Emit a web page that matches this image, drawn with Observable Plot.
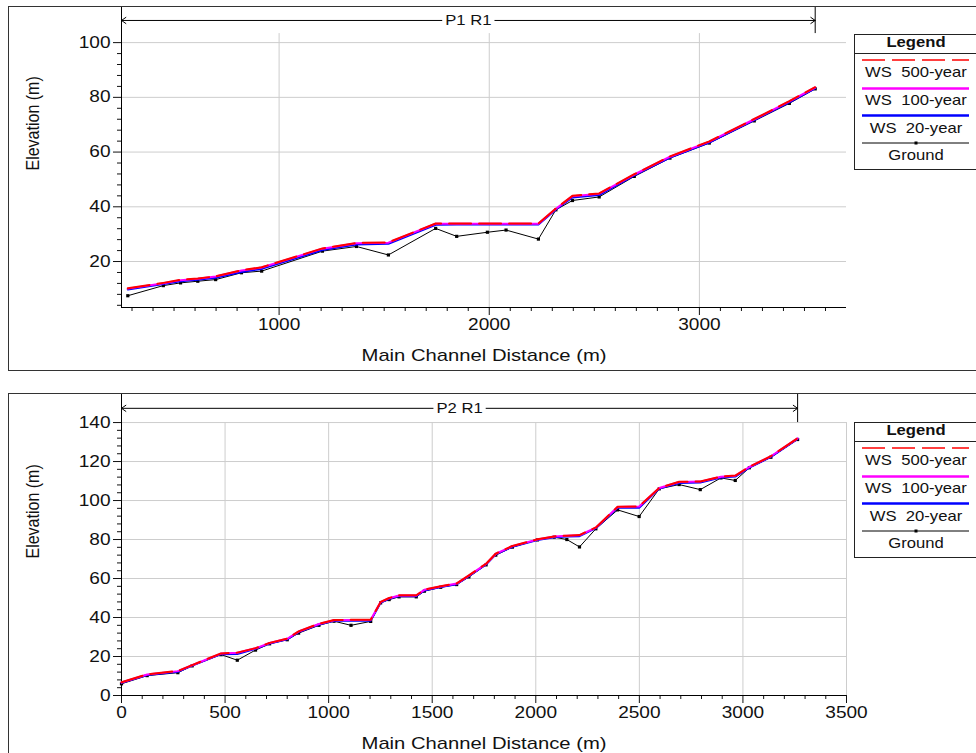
<!DOCTYPE html>
<html>
<head>
<meta charset="utf-8">
<script src="https://cdn.jsdelivr.net/npm/d3@7"></script>
<script src="https://cdn.jsdelivr.net/npm/@observablehq/plot@0.6"></script>
<style>
html, body { margin: 0; padding: 0; background: #fff; }
#page { position: relative; width: 976px; height: 753px; overflow: hidden; font-family: "Liberation Sans", Arial, sans-serif; }
.panel { position: absolute; left: 0; }
.box { position: absolute; left: 8px; width: 1000px; border: 1px solid #333; pointer-events: none; }
svg text { white-space: pre; }
</style>
</head>
<body>
<div id="page"></div>
<script>
// ---------- DATA ----------
const seriesNames = ["WS  500-year", "WS  100-year", "WS  20-year", "Ground"];
const seriesColors = ["#ff0000", "#ff00ff", "#0000ff", "#000000"];
const xTitle = "Main Channel Distance (m)";
const yTitle = "Elevation (m)";

// Panel 1 : P1 R1
const p1Reach = {label: "P1 R1", from: 250, to: 3551};
const p1Station = [280, 449, 531, 613, 698, 821, 917, 1206, 1368, 1520, 1745, 1845, 1991, 2080, 2234, 2317, 2396, 2523, 2690, 2860, 3047, 3261, 3428, 3551];
const p1Ground  = [7.5, 11.2, 12.2, 12.8, 13.4, 15.9, 16.5, 23.8, 25.5, 22.4, 32.1, 29.2, 30.7, 31.5, 28.2, 38.9, 42.3, 43.6, 51.1, 57.8, 63.3, 71.4, 77.8, 83.1];
const p1WS500   = [10.2, 12.2, 13.3, 13.8, 14.6, 16.8, 17.9, 24.8, 26.8, 27.0, 33.9, 33.9, 33.9, 33.9, 33.9, 39.4, 44.0, 44.9, 51.9, 58.4, 63.9, 72.1, 78.6, 83.7];
const p1WS100   = [10.1, 12.1, 13.2, 13.7, 14.5, 16.7, 17.8, 24.7, 26.7, 26.9, 33.8, 33.8, 33.8, 33.8, 33.8, 39.3, 43.9, 44.8, 51.8, 58.3, 63.8, 72.0, 78.5, 83.6];
const p1WS20    = [9.8, 11.8, 12.8, 13.3, 14.1, 16.2, 17.3, 24.2, 26.2, 26.5, 33.4, 33.5, 33.5, 33.5, 33.5, 39.0, 43.4, 44.3, 51.5, 58.0, 63.5, 71.7, 78.2, 83.3];
const p1XTicks = [1000, 2000, 3000];
const p1YTicks = [20, 40, 60, 80, 100];

// Panel 2 : P2 R1
const p2Reach = {label: "P2 R1", from: 0, to: 3264};
const p2Station = [0, 124, 272, 341, 480, 559, 647, 715, 800, 855, 953, 1026, 1108, 1203, 1251, 1292, 1340, 1423, 1462, 1541, 1618, 1677, 1760, 1807, 1887, 2008, 2089, 2150, 2211, 2290, 2395, 2499, 2596, 2692, 2794, 2894, 2963, 3031, 3135, 3264];
const p2Ground  = [6.0, 10.2, 11.7, 15.2, 21.0, 18.1, 23.3, 26.5, 28.6, 32.0, 36.0, 38.1, 36.0, 38.0, 47.5, 49.2, 50.6, 50.6, 53.5, 55.5, 56.9, 60.8, 67.0, 72.0, 76.1, 79.8, 81.2, 80.0, 76.2, 85.5, 95.2, 91.8, 106.0, 108.2, 105.6, 111.6, 110.3, 116.8, 122.2, 131.3];
const p2WS500   = [6.8, 10.9, 12.6, 15.6, 21.6, 22.0, 24.3, 27.0, 29.2, 32.9, 36.8, 38.7, 38.8, 38.9, 48.0, 50.0, 51.4, 51.4, 54.3, 56.0, 57.5, 61.6, 67.6, 72.8, 76.7, 80.1, 81.6, 82.0, 82.3, 86.2, 96.8, 97.0, 106.5, 109.6, 109.8, 112.3, 112.8, 117.3, 122.8, 132.0];
const p2WS100   = [6.7, 10.8, 12.5, 15.5, 21.5, 21.9, 24.2, 26.9, 29.1, 32.8, 36.7, 38.6, 38.7, 38.8, 47.9, 49.9, 51.3, 51.3, 54.2, 55.9, 57.4, 61.5, 67.5, 72.7, 76.6, 80.0, 81.5, 81.9, 82.2, 86.1, 96.7, 96.9, 106.4, 109.5, 109.7, 112.2, 112.7, 117.2, 122.7, 131.9];
const p2WS20    = [6.5, 10.5, 12.2, 15.3, 21.2, 21.3, 23.9, 26.6, 28.8, 32.5, 36.4, 38.3, 38.3, 38.4, 47.6, 49.6, 51.0, 50.9, 53.9, 55.6, 57.1, 61.2, 67.2, 72.4, 76.3, 79.7, 81.2, 81.5, 81.7, 85.8, 96.3, 96.3, 106.1, 109.0, 109.2, 111.8, 112.3, 116.9, 122.4, 131.6];
const p2XTicks = [0, 500, 1000, 1500, 2000, 2500, 3000, 3500];
const p2YTicks = [0, 20, 40, 60, 80, 100, 120, 140];

// ---------- DRAWING ----------
const STRETCH = 1.19;   // horizontal text stretch seen in the reference
const GRID = "#cdcdcd";
const FONT = '"Liberation Sans", Arial, sans-serif';
const page = document.getElementById("page");

function stretchTexts(svgNode) {
  d3.select(svgNode).selectAll("text").each(function () {
    const t = this.getAttribute("transform");
    if (t && /^translate\([^)]*\)/.test(t)) {
      this.setAttribute("transform", t.replace(/^(translate\([^)]*\))/, `$1 scale(${STRETCH},1)`));
    }
  });
}

// white box behind the reach label so the arrow line does not show through it
function maskReachLabel(svgNode, label) {
  const t = Array.from(svgNode.querySelectorAll("text")).find(n => n.textContent === label);
  if (!t) return;
  const g = t.parentNode;
  const sr = svgNode.getBoundingClientRect();
  const r = t.getBoundingClientRect();
  const rect = document.createElementNS("http://www.w3.org/2000/svg", "rect");
  rect.setAttribute("x", r.left - sr.left - 3);
  rect.setAttribute("y", r.top - sr.top);
  rect.setAttribute("width", r.width + 6);
  rect.setAttribute("height", r.height);
  rect.setAttribute("fill", "#fff");
  g.parentNode.insertBefore(rect, g);
}

function panel(cfg) {
  const rows = cfg.station.map((s, i) => ({
    station: s, ground: cfg.ground[i], ws500: cfg.ws500[i], ws100: cfg.ws100[i], ws20: cfg.ws20[i]
  }));
  const [x0, x1] = cfg.xDomain;
  const [y0, y1] = cfg.yDomain;
  const xMinor = d3.range(Math.ceil(x0 / 100) * 100, x1, 100).filter(v => !cfg.xTicks.includes(v) && v > x0);
  const yMinor = d3.range(4, cfg.gridTop, 4).filter(v => v % 20 !== 0 && v > y0);
  const lvl = cfg.arrowLevel;
  const mid = d => (d.from + d.to) / 2;
  const chart = Plot.plot({
    width: 976, height: cfg.height,
    marginLeft: 121, marginRight: 130, marginTop: cfg.marginTop, marginBottom: cfg.marginBottom,
    x: {domain: cfg.xDomain}, y: {domain: cfg.yDomain},
    style: {background: "transparent", overflow: "visible", fontFamily: FONT, fontSize: "16px", color: "#111"},
    marks: [
      Plot.ruleY(cfg.yTicks, {stroke: GRID, strokeWidth: 1}),
      Plot.ruleX(cfg.xTicks, {y1: () => y0, y2: () => cfg.gridTop, stroke: GRID, strokeWidth: 1}),
      Plot.axisY(cfg.yTicks, {tickSize: 8, tickPadding: 3, tickFormat: d => String(d), label: null, fontSize: 16}),
      Plot.axisY(yMinor, {tickSize: 4, tickFormat: () => "", label: null}),
      Plot.axisX(cfg.xTicks, {tickSize: 8, tickPadding: 3, tickFormat: d => String(d), label: null, fontSize: 16}),
      Plot.axisX(xMinor, {tickSize: 4, tickFormat: () => "", label: null}),
      Plot.ruleX([x0], {stroke: "#000"}),
      Plot.ruleY([y0], {stroke: "#000"}),
      Plot.line(rows, {x: "station", y: "ground", stroke: seriesColors[3], strokeWidth: 1}),
      Plot.dot(rows, {x: "station", y: "ground", symbol: "square", r: 1.8, fill: seriesColors[3], stroke: null}),
      Plot.line(rows, {x: "station", y: "ws20", stroke: seriesColors[2], strokeWidth: 2}),
      Plot.line(rows, {x: "station", y: "ws100", stroke: seriesColors[1], strokeWidth: 2}),
      Plot.line(rows, {x: "station", y: "ws500", stroke: seriesColors[0], strokeWidth: 2, strokeDasharray: "22,8"}),
      Plot.arrow([cfg.reach], {x1: mid, x2: "from", y1: () => lvl, y2: () => lvl, stroke: "#000", strokeWidth: 1, headLength: 8, headAngle: 70}),
      Plot.arrow([cfg.reach], {x1: mid, x2: "to", y1: () => lvl, y2: () => lvl, stroke: "#000", strokeWidth: 1, headLength: 8, headAngle: 70}),
      Plot.ruleX([cfg.reach.to], {y1: () => cfg.gridTop, y2: () => y1, stroke: "#000"}),
      Plot.text([cfg.reach], {x: mid, y: () => lvl, text: "label", fill: "#111", fontSize: 14}),
      Plot.text([xTitle], {frameAnchor: "bottom", dy: 48, lineAnchor: "middle", fontSize: 17, fill: "#111"}),
      Plot.text([yTitle], {frameAnchor: "left", dx: -89, dy: cfg.yTitleDy, rotate: -90, lineAnchor: "middle", fontSize: 16, fill: "#111"})
    ]
  });
  chart.classList.add("panel");
  chart.style.top = cfg.top + "px";
  page.appendChild(chart);
  stretchTexts(chart);
  maskReachLabel(chart, cfg.reach.label);

  const box = document.createElement("div");
  box.className = "box";
  box.style.top = cfg.boxTop + "px";
  box.style.height = cfg.boxHeight + "px";
  page.appendChild(box);

  legend(cfg.legendTop);
}

function legend(top) {
  const svg = d3.create("svg")
    .attr("width", 130).attr("height", 140)
    .style("position", "absolute").style("left", "854px").style("top", top + "px")
    .style("overflow", "visible").style("font-family", FONT);
  svg.append("rect").attr("x", 0.5).attr("y", 0.5).attr("width", 160).attr("height", 135)
    .attr("fill", "#fff").attr("stroke", "#222");
  svg.append("text").attr("transform", `translate(62,8) scale(${STRETCH},1)`)
    .attr("text-anchor", "middle").attr("dominant-baseline", "central")
    .attr("font-size", 14).attr("font-weight", "bold").attr("fill", "#111").text("Legend");
  svg.append("line").attr("x1", 0).attr("x2", 160).attr("y1", 19.5).attr("y2", 19.5).attr("stroke", "#222");
  const lineY = [26, 54.5, 81.5, 109];
  const textY = [38, 65.5, 93.5, 121];
  const widths = [1.5, 2.5, 2.5, 1];
  seriesNames.forEach((name, i) => {
    const ln = svg.append("line").attr("x1", 8).attr("x2", 115).attr("y1", lineY[i]).attr("y2", lineY[i])
      .attr("stroke", seriesColors[i]).attr("stroke-width", widths[i]);
    if (i === 0) ln.attr("stroke-dasharray", "23,7");
    if (i === 3) svg.append("rect").attr("x", 60.5).attr("y", lineY[i] - 1.5).attr("width", 3).attr("height", 3).attr("fill", "#000");
    svg.append("text").attr("transform", `translate(62,${textY[i]}) scale(${STRETCH},1)`)
      .attr("text-anchor", "middle").attr("dominant-baseline", "central")
      .attr("font-size", 14).attr("fill", "#111").text(name);
  });
  page.appendChild(svg.node());
}

panel({
  station: p1Station, ground: p1Ground, ws500: p1WS500, ws100: p1WS100, ws20: p1WS20,
  reach: p1Reach, xTicks: p1XTicks, yTicks: p1YTicks,
  xDomain: [250, 3700], yDomain: [3.2, 113.2], gridTop: 103.3, arrowLevel: 108.1,
  top: 0, height: 372, marginTop: 6, marginBottom: 65, yTitleDy: 13.5,
  boxTop: 6, boxHeight: 363, legendTop: 34
});

panel({
  station: p2Station, ground: p2Ground, ws500: p2WS500, ws100: p2WS100, ws20: p2WS20,
  reach: p2Reach, xTicks: p2XTicks, yTicks: p2YTicks,
  xDomain: [0, 3500], yDomain: [0, 154.9], gridTop: 140, arrowLevel: 147.3,
  top: 380, height: 373, marginTop: 13, marginBottom: 58, yTitleDy: 14,
  boxTop: 393, boxHeight: 400, legendTop: 422
});
</script>
</body>
</html>
